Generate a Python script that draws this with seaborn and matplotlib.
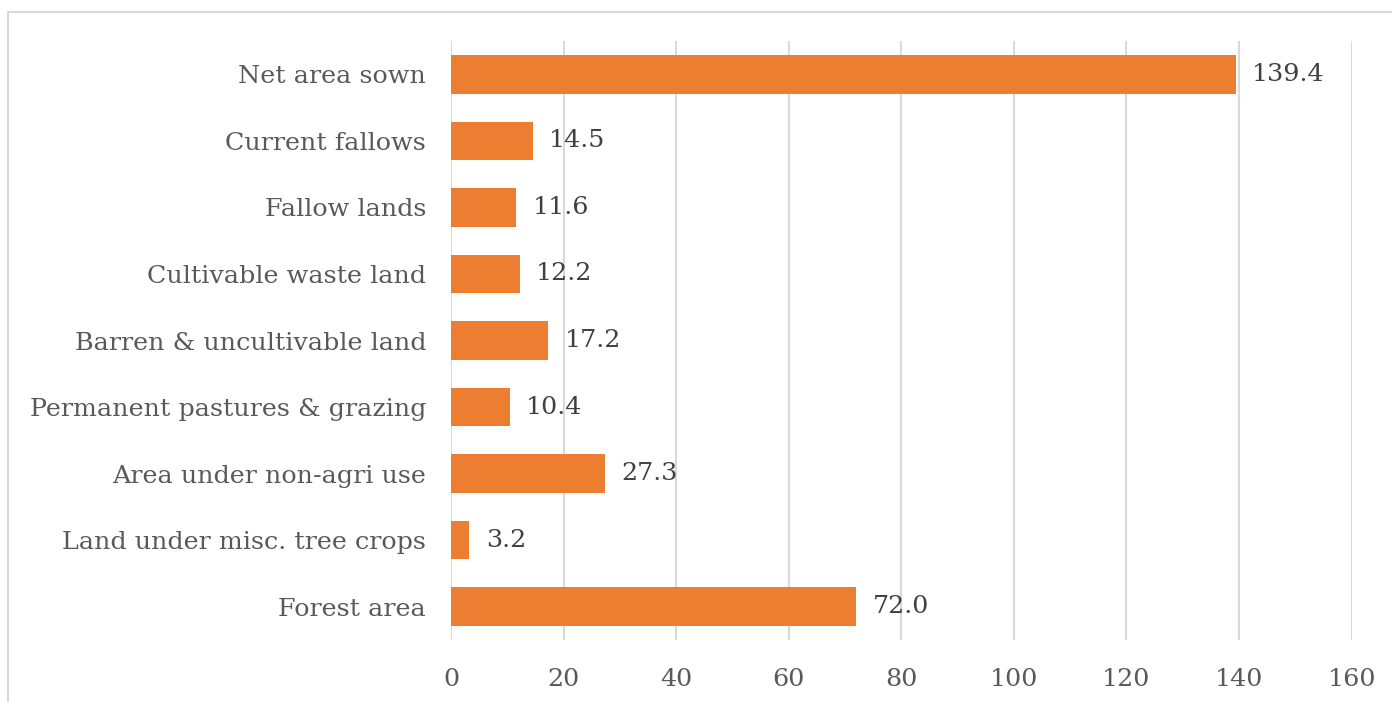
import numpy as np
import pandas as pd
import seaborn as sns
import matplotlib.pyplot as plt
from matplotlib.patches import Rectangle

categories = ['Net area sown', 'Current fallows', 'Fallow lands', 'Cultivable waste land',
              'Barren & uncultivable land', 'Permanent pastures & grazing',
              'Area under non-agri use', 'Land under misc. tree crops', 'Forest area']
values = [139.4, 14.5, 11.6, 12.2, 17.2, 10.4, 27.3, 3.2, 72.0]
xticks = [0, 20, 40, 60, 80, 100, 120, 140, 160]

df = pd.DataFrame({'category': categories, 'value': values})

sns.set_style('white')
plt.rcParams['font.family'] = ['DejaVu Serif']

fig = plt.figure(figsize=(13.92, 7.02), dpi=100)
ax = fig.add_axes([0.324, 0.0883, 0.647, 0.8533])

sns.barplot(data=df, x='value', y='category', orient='h', color='#ED7D31',
            width=0.58, saturation=1, linewidth=0, ax=ax)

ax.set_xlim(0, 160)
ax.set_ylim(8.5, -0.5)
ax.set_xticks(xticks)
ax.grid(axis='x', color='#D9D9D9', linewidth=1.5)
ax.set_axisbelow(True)
for s in ax.spines.values():
    s.set_visible(False)
ax.set_xlabel('')
ax.set_ylabel('')
ax.tick_params(axis='both', length=0, labelsize=18.3, labelcolor='#595959')
ax.tick_params(axis='x', pad=20)
ax.tick_params(axis='y', pad=18)

ax.bar_label(ax.containers[0], fmt='%.1f', padding=12, fontsize=18.3, color='#404040')

fig.patches.append(Rectangle((8 / 1392, -0.1), 1.2, 1.1 - 12 / 702, transform=fig.transFigure,
                             fill=False, edgecolor='#D9D9D9', linewidth=1.5))

fig.savefig('out.png', dpi=100)
